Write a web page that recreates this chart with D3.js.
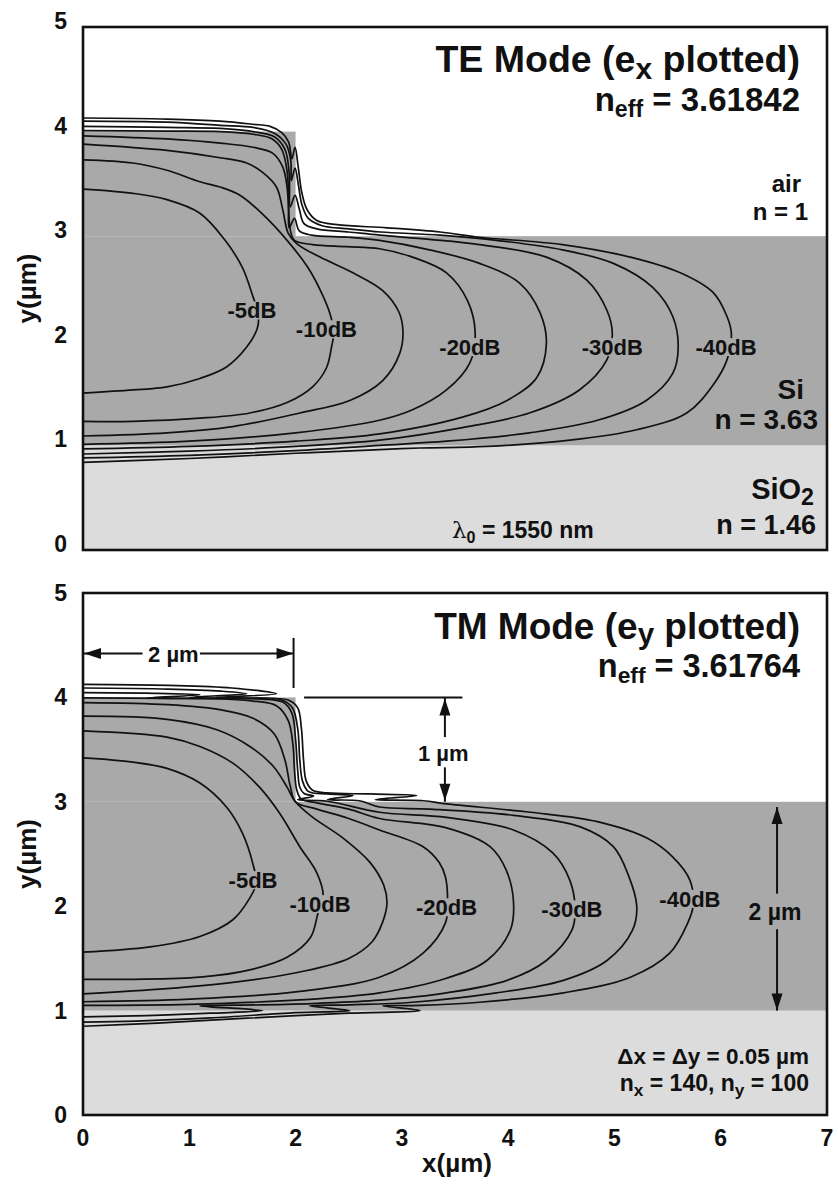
<!DOCTYPE html>
<html><head><meta charset="utf-8">
<script src="https://cdn.jsdelivr.net/npm/d3@7"></script>
<style>
body{margin:0;background:#fff}
svg{display:block}
text{font-family:"Liberation Sans",Arial,Helvetica,sans-serif;font-weight:bold;fill:#111}
</style></head><body>
<svg id="chart" width="838" height="1184"></svg>
<script>
// ---------------- data ----------------
const xTicks = [0,1,2,3,4,5,6,7];
const yTicks = [0,1,2,3,4,5];
const levels = [-5,-10,-15,-20,-25,-30,-35,-40];
const labeledLevels = [-5,-10,-20,-30,-40];
// material regions [x0,x1,y0,y1] in um
const regionSiO2 = [0,7,0,1];
const regionSlab = [0,7,1,3];
const regionRib  = [0,2,3,4];

// TE mode contour lines (x,y in um)
const te5  = [[0,3.45],[0.47,3.41],[0.79,3.35],[1.1,3.22],[1.33,2.97],[1.5,2.70],[1.6,2.42],[1.65,2.26],[1.64,2.12],[1.54,1.94],[1.35,1.75],[1.1,1.64],[0.79,1.56],[0.47,1.53],[0,1.50]];
const te10 = [[0,3.73],[0.47,3.70],[0.79,3.63],[1.1,3.52],[1.29,3.47],[1.48,3.39],[1.69,3.21],[1.92,2.96],[2.11,2.71],[2.23,2.49],[2.32,2.27],[2.36,2.08],[2.34,1.95],[2.29,1.74],[2.16,1.56],[1.92,1.41],[1.57,1.31],[1.10,1.26],[0.47,1.23],[0,1.23]];
const te15 = [[0,3.88],[0.79,3.82],[1.29,3.75],[1.54,3.70],[1.69,3.61],[1.82,3.47],[1.88,3.25],[1.93,3.03],[2.01,2.93],[2.23,2.80],[2.54,2.65],[2.82,2.48],[2.97,2.28],[3.01,2.10],[2.98,1.88],[2.82,1.62],[2.51,1.43],[2.04,1.31],[1.41,1.18],[0.79,1.12],[0,1.09]];
const te20 = [[0,3.96],[0.79,3.93],[1.29,3.89],[1.6,3.85],[1.79,3.79],[1.88,3.66],[1.92,3.47],[1.935,3.25],[1.95,3.06],[1.99,2.96],[2.16,2.92],[2.48,2.90],[2.79,2.88],[3.1,2.80],[3.42,2.65],[3.62,2.38],[3.69,2.07],[3.64,1.79],[3.42,1.53],[3.1,1.34],[2.79,1.24],[2.0,1.12],[1.0,1.04],[0,1.01]];
const te25 = [[0,4.01],[0.79,4.005],[1.29,4.0],[1.6,3.975],[1.78,3.93],[1.87,3.83],[1.92,3.62],[1.935,3.35],[1.94,3.08],[1.99,3.17],[2.035,3.05],[2.15,3.01],[2.5,2.99],[2.79,2.96],[3.26,2.87],[3.73,2.74],[4.11,2.55],[4.30,2.27],[4.36,1.98],[4.27,1.65],[3.99,1.43],[3.57,1.27],[2.79,1.11],[2.0,1.04],[1.0,0.99],[0,0.966]];
const te30 = [[0,4.05],[0.79,4.04],[1.29,4.03],[1.6,4.0],[1.8,3.95],[1.9,3.83],[1.94,3.6],[1.95,3.28],[1.995,3.39],[2.035,3.26],[2.08,3.12],[2.2,3.07],[2.5,3.04],[2.79,3.01],[3.26,2.97],[3.73,2.92],[4.36,2.80],[4.74,2.58],[4.93,2.29],[4.98,2.07],[4.93,1.82],[4.67,1.53],[4.2,1.31],[3.57,1.17],[2.79,1.05],[2.0,0.99],[1.0,0.945],[0,0.918]];
const te35 = [[0,4.10],[0.79,4.09],[1.29,4.06],[1.6,4.04],[1.8,3.985],[1.91,3.88],[1.955,3.72],[1.96,3.53],[1.995,3.65],[2.025,3.50],[2.06,3.30],[2.12,3.17],[2.25,3.10],[2.5,3.07],[2.8,3.04],[3.36,3.01],[3.89,2.96],[4.51,2.87],[4.99,2.74],[5.36,2.51],[5.55,2.23],[5.60,1.94],[5.55,1.69],[5.30,1.43],[4.84,1.24],[4.2,1.12],[3.42,1.04],[2.79,1.0],[2.0,0.95],[1.0,0.905],[0,0.88]];
const te40 = [[0,4.13],[0.79,4.12],[1.29,4.10],[1.6,4.07],[1.76,4.05],[1.87,3.99],[1.935,3.90],[1.965,3.74],[1.995,3.85],[2.025,3.66],[2.06,3.41],[2.11,3.25],[2.20,3.15],[2.39,3.11],[2.86,3.08],[3.36,3.04],[3.73,2.99],[4.51,2.92],[5.15,2.80],[5.62,2.65],[5.93,2.46],[6.06,2.23],[6.10,2.07],[6.06,1.82],[5.93,1.58],[5.68,1.31],[5.21,1.15],[4.58,1.05],[3.8,0.99],[3.17,0.975],[2.79,0.96],[2.0,0.925],[1.0,0.875],[0,0.838]];

// TM mode contour lines
const tm5  = [[0,3.42],[0.47,3.38],[0.79,3.32],[1.1,3.18],[1.35,2.95],[1.5,2.70],[1.6,2.40],[1.63,2.22],[1.57,2.08],[1.41,1.87],[1.10,1.71],[0.63,1.61],[0,1.56]];
const tm10 = [[0,3.68],[0.79,3.62],[1.1,3.53],[1.41,3.37],[1.66,3.14],[1.85,2.89],[2.04,2.57],[2.2,2.32],[2.26,2.1],[2.21,1.93],[2.14,1.70],[1.92,1.51],[1.57,1.39],[1.10,1.32],[0.47,1.30],[0,1.30]];
const tm15 = [[0,3.82],[0.79,3.79],[1.26,3.69],[1.57,3.53],[1.79,3.34],[1.92,3.14],[1.99,3.01],[2.15,2.86],[2.45,2.65],[2.7,2.42],[2.83,2.2],[2.86,2.03],[2.82,1.85],[2.72,1.66],[2.5,1.50],[2.04,1.37],[1.41,1.27],[0.79,1.21],[0,1.16]];
const tm20 = [[0,3.95],[0.8,3.93],[1.3,3.88],[1.6,3.80],[1.8,3.65],[1.9,3.40],[1.95,3.15],[2.0,3.0],[2.2,2.93],[2.5,2.84],[2.79,2.73],[3.2,2.57],[3.35,2.42],[3.41,2.28],[3.43,2.06],[3.41,1.84],[3.2,1.55],[2.79,1.32],[2.0,1.18],[1.0,1.11],[0,1.085]];
const tm25 = [[0,3.995],[0.8,3.99],[1.3,3.985],[1.6,3.965],[1.82,3.92],[1.93,3.78],[1.975,3.55],[1.99,3.3],[2.01,3.12],[2.05,3.03],[2.2,2.99],[2.5,2.93],[2.79,2.84],[3.42,2.75],[3.83,2.57],[3.98,2.35],[4.05,2.05],[4.02,1.77],[3.80,1.48],[3.42,1.31],[2.79,1.17],[2.0,1.10],[1.0,1.06],[0,1.05]];
const tm30 = [[0,4.045],[0.6,4.04],[1.1,4.025],[0.6,3.995],[1.2,3.99],[1.65,3.985],[1.88,3.955],[1.965,3.85],[2.0,3.6],[2.02,3.3],[2.04,3.14],[2.08,3.08],[2.17,3.055],[2.02,3.02],[2.3,3.005],[2.79,2.90],[3.42,2.85],[4.05,2.73],[4.42,2.51],[4.58,2.25],[4.63,1.98],[4.60,1.77],[4.36,1.48],[3.99,1.29],[3.42,1.17],[2.79,1.10],[2.2,1.07],[1.69,1.055],[1.10,1.045],[1.69,1.0],[1.2,0.975],[0.6,0.952],[0,0.94]];
const tm35 = [[0,4.09],[0.8,4.08],[1.3,4.06],[1.54,4.035],[1.0,4.0],[1.5,3.99],[1.86,3.98],[1.97,3.9],[2.02,3.7],[2.04,3.4],[2.065,3.2],[2.12,3.10],[2.3,3.075],[2.54,3.06],[2.3,3.02],[2.6,3.01],[2.79,2.95],[3.26,2.93],[4.05,2.87],[4.68,2.76],[4.99,2.57],[5.13,2.30],[5.21,2.0],[5.17,1.77],[4.93,1.48],[4.52,1.29],[3.89,1.17],[3.10,1.08],[2.51,1.055],[2.13,1.045],[2.51,1.0],[2.0,0.98],[1.2,0.93],[0.5,0.90],[0,0.89]];
const tm40 = [[0,4.125],[0.8,4.115],[1.4,4.09],[1.82,4.035],[1.25,4.0],[1.7,3.99],[1.93,3.975],[2.02,3.9],[2.055,3.7],[2.075,3.4],[2.10,3.2],[2.16,3.11],[2.3,3.085],[2.7,3.075],[3.14,3.06],[2.75,3.02],[3.2,3.01],[3.42,2.98],[4.21,2.90],[4.84,2.81],[5.31,2.65],[5.55,2.47],[5.71,2.25],[5.74,2.0],[5.69,1.84],[5.52,1.55],[5.15,1.32],[4.52,1.17],[3.73,1.08],[3.17,1.05],[2.82,1.045],[3.17,1.0],[2.5,0.975],[1.5,0.925],[0.7,0.88],[0,0.85]];

const teContours = [te5,te10,te15,te20,te25,te30,te35,te40];
const tmContours = [tm5,tm10,tm15,tm20,tm25,tm30,tm35,tm40];
const teLabelPos = [[1.59,2.29],[2.29,2.11],[3.64,1.94],[4.98,1.94],[6.05,1.94]];
const tmLabelPos = [[1.60,2.25],[2.23,2.02],[3.42,1.99],[4.60,1.97],[5.71,2.07]];

// ---------------- drawing ----------------
const svg = d3.select('#chart');
const SI = '#a9a9a9', SIO2 = '#dcdcdc', INK = '#111';
const X0 = 83, X1 = 827;

function rich(g, x, y, parts, size, anchor){
  const t = g.append('text').attr('x',x).attr('y',y).attr('font-size',size)
    .attr('text-anchor',anchor||'start');
  let cur = 0;
  parts.forEach(p=>{
    const ts = t.append('tspan').text(p[0]);
    const sh = p[1]||0;
    if (sh!==cur){ ts.attr('dy', sh-cur); cur = sh; }
    if (p[2]) ts.attr('font-size', size*p[2]);
    if (p[3]) ts.attr('font-family', p[3]).attr('font-weight','normal');
  });
  return t;
}

function panel(top, bottom, tickDy, contours, labelPos, id){
  const x = d3.scaleLinear().domain([0,7]).range([X0,X1]);
  const y = d3.scaleLinear().domain([0,5]).range([bottom,top]);
  const g = svg.append('g');
  g.append('clipPath').attr('id','clip'+id).append('rect')
    .attr('x',X0).attr('y',top).attr('width',X1-X0).attr('height',bottom-top);
  const pg = g.append('g').attr('clip-path',`url(#clip${id})`);
  const rect = (r,fill)=>pg.append('rect').attr('x',x(r[0])).attr('width',x(r[1])-x(r[0]))
      .attr('y',y(r[3])).attr('height',y(r[2])-y(r[3])).attr('fill',fill);
  rect(regionSiO2,SIO2); rect(regionSlab,SI); rect(regionRib,SI);
  const line = d3.line().x(d=>x(d[0])).y(d=>y(d[1])).curve(d3.curveCatmullRom.alpha(0.5));
  pg.selectAll('path.c').data(contours).join('path').attr('class','c')
    .attr('d',line).attr('fill','none').attr('stroke',INK).attr('stroke-width',1.7)
    .attr('stroke-linejoin','round');
  labeledLevels.forEach((lv,i)=>{
    const [lx,ly] = labelPos[i];
    const t = pg.append('text').attr('x',x(lx)).attr('y',y(ly)+8).attr('font-size',22)
      .attr('text-anchor','middle').text(lv+'dB');
    const w = t.node().getComputedTextLength();
    pg.insert('rect','text').attr('x',x(lx)-w/2-1).attr('y',y(ly)-9).attr('width',w+2)
      .attr('height',18).attr('fill',SI);
  });
  g.append('rect').attr('x',X0).attr('y',top).attr('width',X1-X0).attr('height',bottom-top)
    .attr('fill','none').attr('stroke',INK).attr('stroke-width',2.6);
  g.selectAll('text.yt').data(yTicks).join('text').attr('class','yt')
    .attr('x',67).attr('y',d=>y(d)+8+tickDy).attr('text-anchor','end').attr('font-size',23).text(d=>d);
  g.append('text').attr('transform',`translate(36,${(top+bottom)/2}) rotate(-90)`)
    .attr('text-anchor','middle').attr('font-size',26).text('y(µm)');
  return {x,y,g};
}

// top panel: TE
const P1 = panel(27, 550, -6, teContours, teLabelPos, 1);
rich(P1.g, 800, 72, [['TE Mode (e'],['x',7,0.8],[' plotted)',0]], 37.5, 'end');
rich(P1.g, 800, 111, [['n'],['eff',6,0.7],[' = 3.61842',0]], 33, 'end');
rich(P1.g, 801, 192, [['air']], 24, 'end');
rich(P1.g, 808, 220, [['n = 1']], 24, 'end');
rich(P1.g, 804, 399, [['Si']], 28, 'end');
rich(P1.g, 818, 429, [['n = 3.63']], 28, 'end');
rich(P1.g, 814, 499, [['SiO'],['2',6,0.8]], 29, 'end');
rich(P1.g, 816, 534, [['n = 1.46']], 27, 'end');
rich(P1.g, 452, 538, [['λ',0,1,'DejaVu Serif'],['0',5,0.7],[' = 1550 nm',0]], 23, 'start');

// bottom panel: TM
const P2 = panel(593, 1115, 0, tmContours, tmLabelPos, 2);
rich(P2.g, 800, 639, [['TM Mode (e'],['y',5,0.8],[' plotted)',0]], 37, 'end');
rich(P2.g, 800, 677, [['n'],['eff',6,0.7],[' = 3.61764',0]], 32.5, 'end');
rich(P2.g, 809, 1064, [['Δx = Δy = 0.05 µm']], 22.5, 'end');
rich(P2.g, 809, 1091, [['n'],['x',5,0.75],[' = 140, n',0],['y',5,0.75],[' = 100',0]], 23, 'end');

// x axis labels (bottom panel)
svg.selectAll('text.xt').data(xTicks).join('text').attr('class','xt')
  .attr('x',d=>P2.x(d)).attr('y',1146).attr('text-anchor','middle').attr('font-size',23).text(d=>d);
svg.append('text').attr('x',457).attr('y',1172).attr('text-anchor','middle').attr('font-size',26).text('x(µm)');

// dimension annotations on TM panel
const ann = P2.g.append('g');
const x2 = P2.x, y2 = P2.y;
function seg(xa,ya,xb,yb){ ann.append('line').attr('x1',xa).attr('y1',ya).attr('x2',xb).attr('y2',yb)
  .attr('stroke',INK).attr('stroke-width',2); }
function head(tx,ty,dir){
  const L=17, W=5.5; let pts;
  if(dir==='left') pts=[[tx,ty],[tx+L,ty-W],[tx+L,ty+W]];
  if(dir==='right') pts=[[tx,ty],[tx-L,ty-W],[tx-L,ty+W]];
  if(dir==='up') pts=[[tx,ty],[tx-W,ty+L],[tx+W,ty+L]];
  if(dir==='down') pts=[[tx,ty],[tx-W,ty-L],[tx+W,ty-L]];
  ann.append('path').attr('d','M'+pts.map(p=>p.join(',')).join('L')+'Z').attr('fill',INK);
}
// 2 um rib width
const yh = y2(4.42);
seg(x2(0),yh,x2(0.56),yh); seg(x2(1.1),yh,x2(2)-2,yh);
head(x2(0)+1,yh,'left'); head(x2(2)-2,yh,'right');
ann.append('text').attr('x',x2(0.85)).attr('y',yh+8).attr('text-anchor','middle').attr('font-size',22).text('2 µm');
seg(x2(2)-2,y2(4.57),x2(2)-2,y2(4.09));
// 1 um step
seg(x2(2.08),y2(4),x2(3.57),y2(4));
const xv = x2(3.405);
seg(xv,y2(4),xv,y2(3.62)); seg(xv,y2(3.33),xv,y2(3));
head(xv,y2(4)+1,'up'); head(xv,y2(3)-1,'down');
ann.append('text').attr('x',x2(3.39)).attr('y',y2(3.47)+8).attr('text-anchor','middle').attr('font-size',22).text('1 µm');
// 2 um slab
const xr = x2(6.53);
seg(xr,y2(2.95),xr,y2(2.12)); seg(xr,y2(1.78),xr,y2(1.0));
head(xr,y2(2.95),'up'); head(xr,y2(1.0),'down');
ann.append('text').attr('x',x2(6.51)).attr('y',y2(1.94)+8).attr('text-anchor','middle').attr('font-size',23).text('2 µm');
</script>
</body></html>
